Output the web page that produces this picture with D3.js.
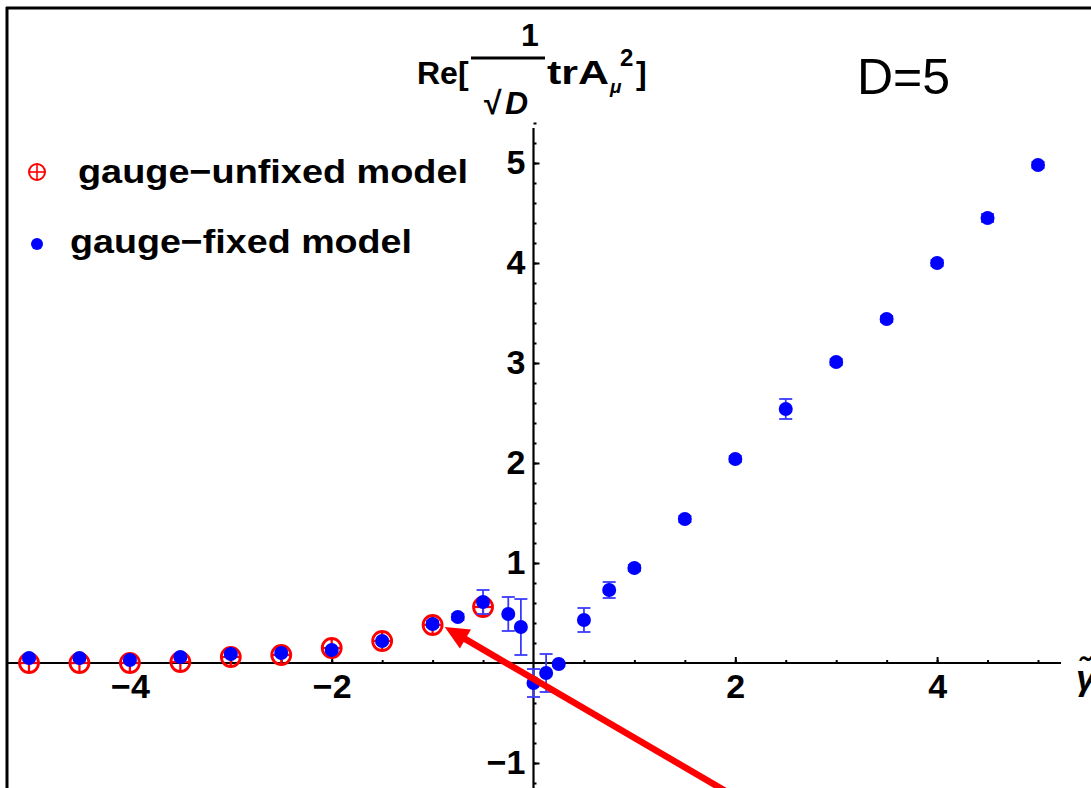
<!DOCTYPE html>
<html><head><meta charset="utf-8">
<script src="https://cdn.jsdelivr.net/npm/d3@7"></script>
<style>html,body{margin:0;padding:0;background:#fff;} svg{display:block;}</style>
</head><body><svg id="c" width="1091" height="788"></svg>
<script>
// ---- data ----
const fixedX   = [-5, -4.5, -4, -3.5, -3, -2.5, -2, -1.5, -1, -0.75, -0.5, -0.25, -0.125, 0, 0.125, 0.25, 0.5, 0.75, 1, 1.5, 2, 2.5, 3, 3.5, 4, 4.5, 5];
const fixedY   = [0.05, 0.05, 0.03, 0.06, 0.09, 0.10, 0.13, 0.22, 0.39, 0.46, 0.61, 0.49, 0.36, -0.20, -0.10, -0.01, 0.43, 0.73, 0.95, 1.44, 2.04, 2.54, 3.01, 3.44, 4.00, 4.45, 4.98];
const fixedErr = [0.02, 0.02, 0.02, 0.02, 0.02, 0.02, 0.02, 0.02, 0.03, 0.03, 0.12, 0.17, 0.28, 0.14, 0.19, 0.02, 0.12, 0.08, 0.03, 0.03, 0.03, 0.10, 0.03, 0.03, 0.03, 0.04, 0.03];
const unfixedX = [-5, -4.5, -4, -3.5, -3, -2.5, -2, -1.5, -1, -0.5];
const unfixedY = [0.00, 0.00, 0.00, 0.01, 0.06, 0.08, 0.15, 0.22, 0.38, 0.56];
const xTickValues = [-4, -2, 2, 4];
const yTickValues = [-1, 1, 2, 3, 4, 5];
const legendLabels = ["gauge\u2212unfixed model", "gauge\u2212fixed model"];
const arrowFrom = [1.97, -1.32];   // annotation arrow tail (data units)
const arrowTo   = [-0.88, 0.36];   // annotation arrow tip (data units)

// ---- scales ----
const svg = d3.select("#c");
const x = d3.scaleLinear().domain([-5, 5]).range([29, 1038]);
const y = d3.scaleLinear().domain([0, 5]).range([663, 163]);
const FONT = "'Liberation Sans', Arial, Helvetica, sans-serif";
const BLUE = "#0000ff", RED = "#ff0000";
const fmt = d3.format("d");

// frame
svg.append("line").attr("x1", 6).attr("x2", 1091).attr("y1", 8).attr("y2", 8).attr("stroke", "#000").attr("stroke-width", 3);
svg.append("line").attr("x1", 7).attr("x2", 7).attr("y1", 7).attr("y2", 788).attr("stroke", "#000").attr("stroke-width", 3);

// axis lines
svg.append("line").attr("x1", 8).attr("x2", 1061).attr("y1", y(0)).attr("y2", y(0)).attr("stroke", "#000").attr("stroke-width", 2.2);
svg.append("line").attr("x1", x(0)).attr("x2", x(0)).attr("y1", 128).attr("y2", 788).attr("stroke", "#000").attr("stroke-width", 2.2);

// x axis (ticks upward)
const xMinor = d3.range(-5, 5.01, 0.5).filter(v => v !== 0);
const gx = svg.append("g").attr("transform", `translate(0,${y(0)})`);
gx.call(d3.axisBottom(x).tickValues(xMinor).tickSizeInner(-3).tickSizeOuter(0).tickFormat(""));
gx.append("g").call(d3.axisBottom(x).tickValues(xTickValues).tickSizeInner(-6).tickSizeOuter(0).tickPadding(11).tickFormat(fmt));
gx.selectAll(".domain").remove();
gx.selectAll("line").attr("stroke", "#000").attr("stroke-width", 2);
gx.selectAll("text").attr("font-family", FONT).attr("font-weight", "bold").attr("font-size", 34).attr("fill", "#000");

// y axis (ticks to the right)
const yMinor = d3.range(-1.2, 5.41, 0.2).map(v => Math.round(v * 10) / 10).filter(v => Math.abs(v) > 1e-9);
const gy = svg.append("g").attr("transform", `translate(${x(0)},0)`);
gy.call(d3.axisLeft(y).tickValues(yMinor).tickSizeInner(-3).tickSizeOuter(0).tickFormat(""));
gy.append("g").call(d3.axisLeft(y).tickValues(yTickValues).tickSizeInner(-6).tickSizeOuter(0).tickPadding(8).tickFormat(fmt));
gy.selectAll(".domain").remove();
gy.selectAll("line").attr("stroke", "#000").attr("stroke-width", 2);
gy.selectAll("text").attr("font-family", FONT).attr("font-weight", "bold").attr("font-size", 34).attr("fill", "#000");

// x label
svg.append("text").attr("x", 1076).attr("y", 690).attr("font-family", FONT).attr("font-weight", "bold").attr("font-style", "italic").attr("font-size", 36).text("\u03b3\u0303");

// y label:  Re[ 1/√D trA_μ^2 ]
const yl = svg.append("g").attr("font-family", FONT).attr("font-weight", "bold").attr("fill", "#000");
yl.append("text").attr("x", 417).attr("y", 84).attr("font-size", 32).text("Re[");
yl.append("text").attr("x", 530).attr("y", 46).attr("font-size", 32).attr("text-anchor", "middle").text("1");
yl.append("line").attr("x1", 471).attr("x2", 545).attr("y1", 58).attr("y2", 58).attr("stroke", "#000").attr("stroke-width", 3);
yl.append("text").attr("x", 484).attr("y", 114).attr("font-size", 32).text("\u221a");
yl.append("text").attr("x", 505).attr("y", 114).attr("font-size", 32).attr("font-style", "italic").text("D");
yl.append("text").attr("x", 547).attr("y", 84).attr("font-size", 33).attr("textLength", 62).attr("lengthAdjust", "spacingAndGlyphs").text("trA");
yl.append("text").attr("x", 610).attr("y", 93).attr("font-size", 19).attr("font-style", "italic").text("\u03bc");
yl.append("text").attr("x", 620).attr("y", 66).attr("font-size", 24).text("2");
yl.append("text").attr("x", 636).attr("y", 84).attr("font-size", 32).text("]");

// D=5
svg.append("text").attr("x", 857).attr("y", 94).attr("font-family", FONT).attr("font-size", 50).attr("fill", "#000").text("D=5");

// ⊕ marker
function oplus(g, cx, cy, r, sw) {
  g.append("circle").attr("cx", cx).attr("cy", cy).attr("r", r).attr("fill", "none").attr("stroke", RED).attr("stroke-width", sw);
  g.append("line").attr("x1", cx - r).attr("x2", cx + r).attr("y1", cy).attr("y2", cy).attr("stroke", RED).attr("stroke-width", sw * 0.8);
  g.append("line").attr("x1", cx).attr("x2", cx).attr("y1", cy - r).attr("y2", cy + r).attr("stroke", RED).attr("stroke-width", sw * 0.8);
}

// gauge-unfixed
const gu = svg.append("g");
unfixedX.forEach((v, i) => oplus(gu, x(v), y(unfixedY[i]), 9.5, 2.8));

// gauge-fixed: error bars + dots
const fixed = fixedX.map((v, i) => ({x: v, y: fixedY[i], e: fixedErr[i]}));
const gf = svg.append("g");
const eb = gf.selectAll("g.eb").data(fixed).join("g").attr("stroke", "#3a3aff").attr("stroke-width", 1.8);
eb.append("line").attr("x1", d => x(d.x)).attr("x2", d => x(d.x)).attr("y1", d => y(d.y - d.e)).attr("y2", d => y(d.y + d.e));
eb.append("line").attr("x1", d => x(d.x) - 6.5).attr("x2", d => x(d.x) + 6.5).attr("y1", d => y(d.y - d.e)).attr("y2", d => y(d.y - d.e));
eb.append("line").attr("x1", d => x(d.x) - 6.5).attr("x2", d => x(d.x) + 6.5).attr("y1", d => y(d.y + d.e)).attr("y2", d => y(d.y + d.e));
gf.selectAll("circle").data(fixed).join("circle").attr("cx", d => x(d.x)).attr("cy", d => y(d.y)).attr("r", 7).attr("fill", BLUE);

// legend
const lg = svg.append("g").attr("font-family", FONT).attr("font-weight", "bold").attr("fill", "#000");
oplus(lg, 37, 172, 8, 2);
lg.append("text").attr("x", 78).attr("y", 183).attr("font-size", 34).attr("textLength", 390).attr("lengthAdjust", "spacingAndGlyphs").text(legendLabels[0]);
lg.append("circle").attr("cx", 37).attr("cy", 244).attr("r", 6).attr("fill", BLUE);
lg.append("text").attr("x", 70).attr("y", 253).attr("font-size", 34).attr("textLength", 342).attr("lengthAdjust", "spacingAndGlyphs").text(legendLabels[1]);

// annotation arrow
const ax0 = x(arrowFrom[0]), ay0 = y(arrowFrom[1]), ax1 = x(arrowTo[0]), ay1 = y(arrowTo[1]);
const L = Math.hypot(ax1 - ax0, ay1 - ay0), ux = (ax1 - ax0) / L, uy = (ay1 - ay0) / L;
const headLen = 24, headW = 11;
const bx = ax1 - ux * headLen, by = ay1 - uy * headLen;
svg.append("line").attr("x1", ax0).attr("y1", ay0).attr("x2", bx + ux * 2).attr("y2", by + uy * 2).attr("stroke", RED).attr("stroke-width", 6.5);
svg.append("path").attr("fill", RED)
  .attr("d", `M${ax1},${ay1}L${bx - uy * headW},${by + ux * headW}L${bx + uy * headW},${by - ux * headW}Z`);
</script>
</body></html>
